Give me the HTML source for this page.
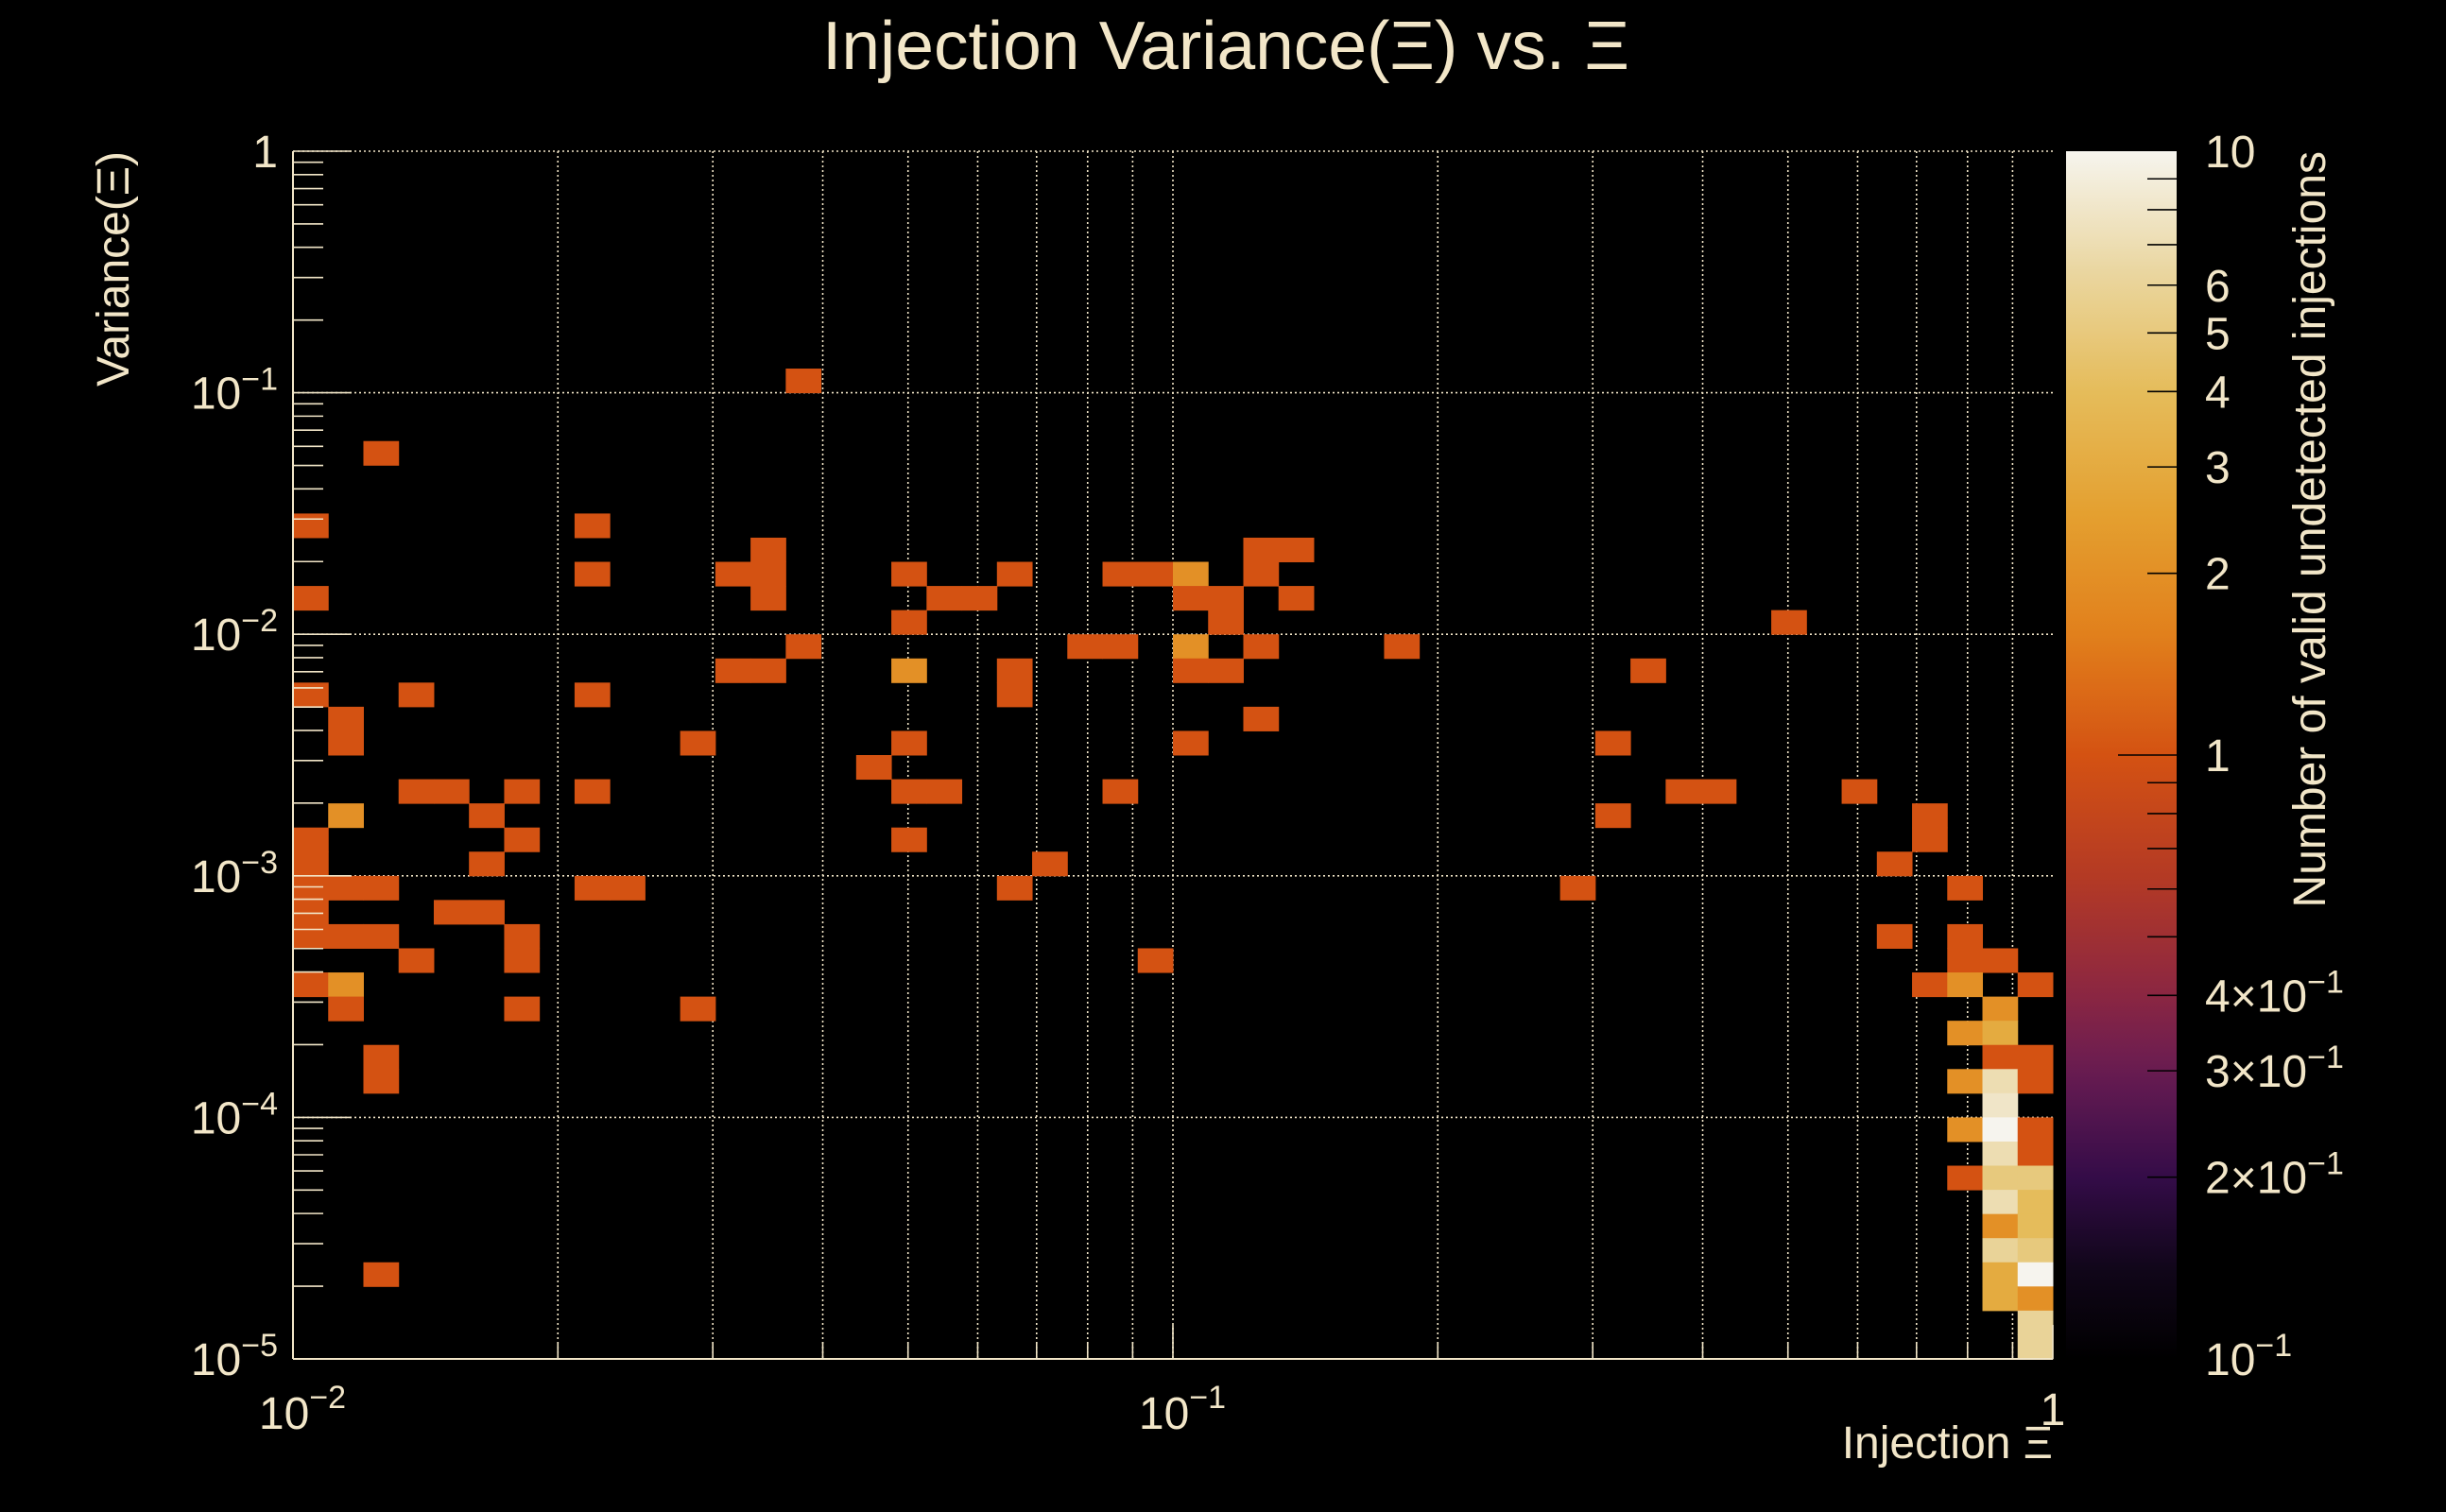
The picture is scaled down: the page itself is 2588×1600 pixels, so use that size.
<!DOCTYPE html>
<html><head><meta charset="utf-8"><style>
html,body{margin:0;padding:0;background:#000;}
svg{display:block;font-family:"Liberation Sans",sans-serif;}
</style></head><body>
<svg id="chart" width="2588" height="1600" viewBox="0 0 2588 1600" xmlns="http://www.w3.org/2000/svg">
<rect x="0" y="0" width="2588" height="1600" fill="#000"/>
<text x="1297" y="73" font-size="72" fill="#F2E6C8" text-anchor="middle" textLength="854" lengthAdjust="spacingAndGlyphs">Injection Variance(Ξ) vs. Ξ</text>
<g id="grid"></g>
<g id="cells"></g>
<g id="axes"></g>
<g id="cbar"></g>
<text transform="translate(136,160) rotate(-90)" font-size="48" fill="#F2E6C8" text-anchor="end">Variance(Ξ)</text>
<text x="2172" y="1543" font-size="48" fill="#F2E6C8" text-anchor="end">Injection Ξ</text>
<text transform="translate(2460,160) rotate(-90)" font-size="48" fill="#F2E6C8" text-anchor="end">Number of valid undetected injections</text>
</svg>
<script>
// data: log10(injection Xi) bin centers, log10(variance) bin centers, counts
const xLog = [-1.42,-1.9,-1.98,-1.66,-1.46,-1.46,-1.46,-1.5,-1.3,-1.26,-1.3,-1.98,-1.66,-1.42,-1.5,-1.46,-1.3,-1.98,-1.86,-1.66,-1.94,-1.94,-1.54,-1.3,-1.34,-1.86,-1.82,-1.74,-1.66,-1.3,-1.26,-1.94,-1.78,-1.98,-1.74,-1.3,-1.98,-1.78,-1.98,-1.94,-1.9,-1.66,-1.62,-1.98,-1.82,-1.78,-1.98,-1.94,-1.9,-1.74,-1.86,-1.74,-1.98,-1.94,-1.94,-1.74,-1.54,-1.9,-1.9,-1.9,
 -1.18,-1.06,-1.02,-0.98,-0.9,-0.86,-0.9,-0.86,-1.22,-0.98,-0.94,-0.94,-1.1,-1.06,-0.98,-0.9,-0.74,-1.18,-1.18,-0.98,-0.94,-0.9,-0.98,-1.06,-1.14,-1.18,-1.02,
 -0.3,-0.46,-0.5,-0.42,-0.38,-0.22,-0.5,-0.14,-0.14,-0.18,-0.54,-0.1,-0.18,-0.1,-0.1,-0.06,-0.14,-0.1,-0.02,-0.06,-0.1,-0.06,-0.06,-0.02,-0.1,-0.06,-0.02,
 -0.06,-0.1,-0.06,-0.02,-0.06,-0.02,-0.1,-0.06,-0.02,-0.06,-0.02,-0.06,-0.02,-0.06,-0.02,-0.06,-0.02,-0.06,-0.02,-0.02,-0.02];
const yLog = [-0.95,-1.25,-1.55,-1.55,-1.65,-1.75,-1.85,-1.75,-1.75,-1.85,-1.95,-1.85,-1.75,-2.05,-2.15,-2.15,-2.15,-2.25,-2.25,-2.25,-2.35,-2.45,-2.45,-2.45,-2.55,-2.65,-2.65,-2.65,-2.65,-2.65,-2.65,-2.75,-2.75,-2.85,-2.85,-2.85,-2.95,-2.95,-3.05,-3.05,-3.05,-3.05,-3.05,-3.15,-3.15,-3.15,-3.25,-3.25,-3.25,-3.25,-3.35,-3.35,-3.45,-3.45,-3.55,-3.55,-3.55,-3.75,-3.85,-4.65,
 -1.75,-1.75,-1.75,-1.75,-1.65,-1.65,-1.75,-1.85,-1.85,-1.85,-1.85,-1.95,-2.05,-2.05,-2.05,-2.05,-2.05,-2.15,-2.25,-2.15,-2.15,-2.35,-2.45,-2.65,-2.95,-3.05,-3.35,
 -1.95,-2.15,-2.45,-2.65,-2.65,-2.65,-2.75,-2.75,-2.85,-2.95,-3.05,-3.05,-3.25,-3.25,-3.35,-3.35,-3.45,-3.45,-3.45,-3.55,-3.65,-3.65,-3.75,-3.75,-3.85,-3.85,-3.85,-3.95,-4.05,-4.05,-4.05,-4.15,-4.15,-4.25,-4.25,-4.25,-4.35,-4.35,-4.45,-4.45,-4.55,-4.55,-4.65,-4.65,-4.75,-4.75,-4.85,-4.95];
const counts = [1,1,1,1,1,1,1,1,1,1,1,1,1,1,1,1,2,1,1,1,1,1,1,1,1,1,1,1,1,1,1,2,1,1,1,1,1,1,1,1,1,1,1,1,1,1,1,1,1,1,1,1,1,2,1,1,1,1,1,1,
 1,1,1,2,1,1,1,1,1,1,1,1,1,1,2,1,1,1,1,1,1,1,1,1,1,1,1,
 1,1,1,1,1,1,1,1,1,1,1,1,1,1,1,1,
 1,2,1,2,2,3,1,1,2,7,1,8,2,10,1,7,1,1,5,5,7,4,2,4,6,5,3,10,3,2,6,6];
const xTickLabels = ["10","10","1"];
const xTickExp = ["-2","-1",""];
const yTickLabels = ["1","10","10","10","10","10"];
const yTickExp = ["","-1","-2","-3","-4","-5"];
const cbTickValues = [10,6,5,4,3,2,1,0.4,0.3,0.2,0.1];
const cbTickLabels = ["10","6","5","4","3","2","1","4×10","3×10","2×10","10"];
const cbTickExp = ["","","","","","","","−1","−1","−1","−1"];

const NS="http://www.w3.org/2000/svg";
const X0=310,X1=2172,Y0=160,Y1=1438;
const XMIN=-2,XMAX=0,YMIN=-5,YMAX=0;
const BW=(XMAX-XMIN)/50, BH=(YMAX-YMIN)/50;
function xs(l){return X0+(l-XMIN)/(XMAX-XMIN)*(X1-X0);}
function ys(l){return Y1-(l-YMIN)/(YMAX-YMIN)*(Y1-Y0);}
const CB0=2186,CB1=2303;
function cs(v){return Y1-(Math.log10(v)+1)/2*(Y1-Y0);}
const stops=[[0,[0,0,0]],[0.08,[18,6,28]],[0.15,[52,12,72]],[0.24,[105,28,82]],[0.3,[138,38,66]],[0.4,[180,58,36]],[0.5,[212,82,18]],[0.6,[225,128,28]],[0.7,[228,160,48]],[0.8,[229,188,90]],[0.9,[234,214,160]],[1,[246,244,238]]];
function cmap(v){let p=(Math.log10(v)+1)/2;p=Math.max(0,Math.min(1,p));
 for(let i=1;i<stops.length;i++){if(p<=stops[i][0]){const a=stops[i-1],b=stops[i],t=(p-a[0])/(b[0]-a[0]);
 const c=a[1].map((x,k)=>Math.round(x+(b[1][k]-x)*t));return `rgb(${c[0]},${c[1]},${c[2]})`;}}return "rgb(246,244,238)";}
function mk(tag,attrs,parent){const e=document.createElementNS(NS,tag);for(const k in attrs)e.setAttribute(k,attrs[k]);parent.appendChild(e);return e;}
const TXT="#F2E6C8";
const grid=document.getElementById('grid'),cells=document.getElementById('cells'),axes=document.getElementById('axes'),cbar=document.getElementById('cbar');
for(let d=-2;d<0;d++){for(let m=1;m<=9;m++){const l=d+Math.log10(m);if(l<=XMIN)continue;
 const g=mk('line',{x1:xs(l),x2:xs(l),y1:Y0,y2:Y1,stroke:TXT,'stroke-width':1.6,'stroke-dasharray':'2 3'},grid);
 
 }}
for(let d=-4;d<=0;d++){const g=mk('line',{x1:X0,x2:X1,y1:ys(d),y2:ys(d),stroke:TXT,'stroke-width':1.6,'stroke-dasharray':'2 3'},grid);
 
 }
for(let i=0;i<counts.length;i++){const x=xs(xLog[i]-BW/2),x2=xs(xLog[i]+BW/2),y=ys(yLog[i]+BH/2),y2=ys(yLog[i]-BH/2);
 const r=mk('rect',{x:x,y:y,width:x2-x+0.5,height:y2-y+0.5,fill:cmap(counts[i])},cells);
 
 }
let a=mk('line',{x1:X0,x2:X0,y1:Y0,y2:Y1,stroke:TXT,'stroke-width':2},axes);


a=mk('line',{x1:X0,x2:X1,y1:Y1,y2:Y1,stroke:TXT,'stroke-width':2},axes);


for(let d=-5;d<=0;d++){for(let m=1;m<=9;m++){const l=d+Math.log10(m);if(l>0)break;
 const len=m===1?62:32;const t=mk('line',{x1:X0,x2:X0+len,y1:ys(l),y2:ys(l),stroke:TXT,'stroke-width':1.6},axes);
 
 }}
for(let d=-2;d<=0;d++){for(let m=1;m<=9;m++){const l=d+Math.log10(m);if(l>0)break;
 const len=m===1?36:18;const t=mk('line',{x1:xs(l),x2:xs(l),y1:Y1,y2:Y1-len,stroke:TXT,'stroke-width':1.6},axes);
 
 }}
for(let i=0;i<yTickLabels.length;i++){const l=-i;
 const t=mk('text',{x:294,y:ys(l)+17,'font-size':48,fill:TXT,'text-anchor':'end'},axes);
 
 
 t.appendChild(document.createTextNode(yTickLabels[i]));
 if(yTickExp[i]){const s=mk('tspan',{'font-size':34,dy:-20},t);s.textContent=yTickExp[i].replace('-','−');}}
for(let i=0;i<xTickLabels.length;i++){const l=-2+i;
 const t=mk('text',{x:xs(l)+(i===2?0:10),y:i===2?1508:1512,'font-size':48,fill:TXT,'text-anchor':'middle'},axes);
 
 
 t.appendChild(document.createTextNode(xTickLabels[i]));
 if(xTickExp[i]){const s=mk('tspan',{'font-size':34,dy:-22},t);s.textContent=xTickExp[i].replace('-','−');}}
const defs=mk('defs',{},cbar);const lg=mk('linearGradient',{id:'cg',x1:0,y1:1,x2:0,y2:0},defs);
for(let k=0;k<=40;k++){const p=k/40;const v=Math.pow(10,p*2-1);mk('stop',{offset:p,'stop-color':cmap(v)},lg);}
const cb=mk('rect',{x:CB0,y:Y0,width:CB1-CB0,height:Y1-Y0,fill:'url(#cg)'},cbar);


for(let d=-1;d<1;d++){for(let m=1;m<=9;m++){const v=Math.pow(10,d)*m;if(v<=0.1)continue;
 const len=(v===1)?62:31;const t=mk('line',{x1:CB1-len,x2:CB1,y1:cs(v),y2:cs(v),stroke:'#000','stroke-width':1.6},cbar);
 
 }}
for(let i=0;i<cbTickValues.length;i++){
 const t=mk('text',{x:2333,y:cs(cbTickValues[i])+17,'font-size':48,fill:TXT},cbar);
 
 
 t.appendChild(document.createTextNode(cbTickLabels[i]));
 if(cbTickExp[i]){const s=mk('tspan',{'font-size':34,dy:-20},t);s.textContent=cbTickExp[i];}}
</script>
</body></html>
